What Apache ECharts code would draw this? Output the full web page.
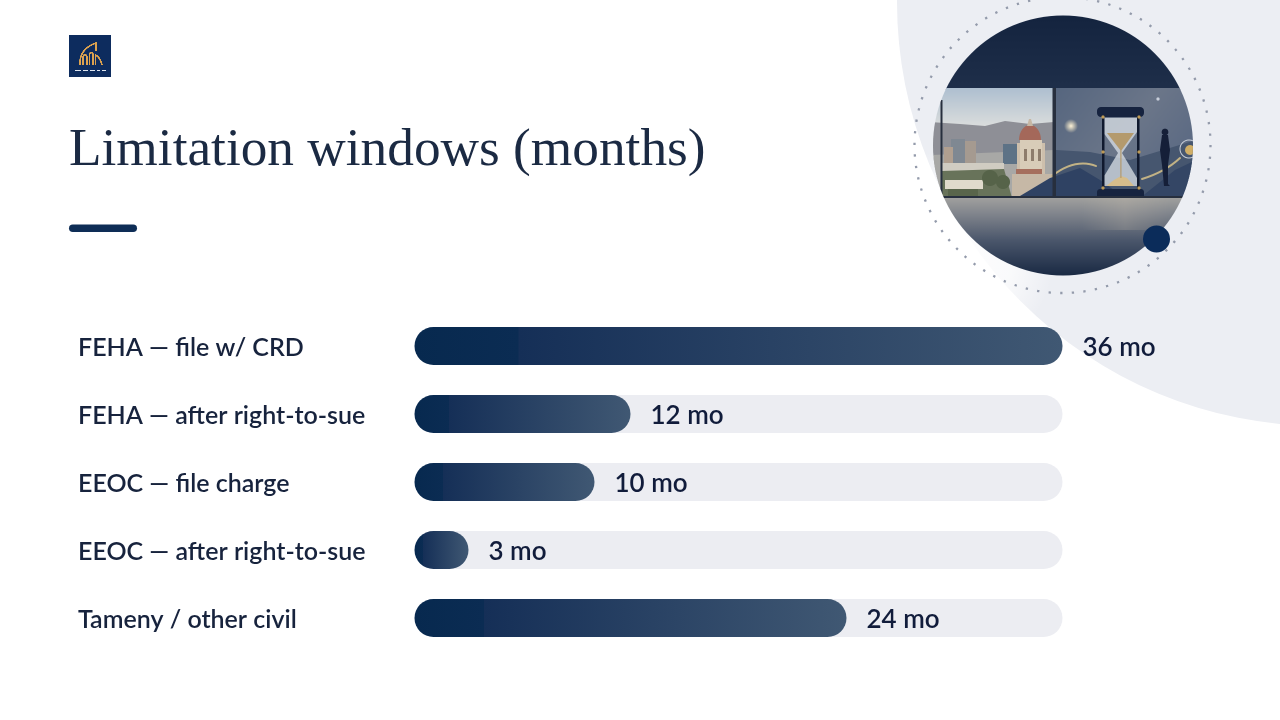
<!DOCTYPE html>
<html><head><meta charset="utf-8">
<style>html,body{margin:0;padding:0;background:#fff}#c{width:1280px;height:720px}</style>
<script src="https://cdn.jsdelivr.net/npm/echarts@6/dist/echarts.min.js"></script>
</head><body><div id="c"></div>
<script>
const titleText = 'Limitation windows (months)';
const categories = ['FEHA — file w/ CRD','FEHA — after right-to-sue','EEOC — file charge','EEOC — after right-to-sue','Tameny / other civil'];
const months = [36,12,10,3,24];
const trackMax = 36;
const unit = 'mo';

function makeCanvas(w,h,s){const c=document.createElement('canvas');c.width=w*s;c.height=h*s;const x=c.getContext('2d');x.scale(s,s);return [c,x];}
function poly(x,pts,fill){x.beginPath();pts.forEach((p,i)=>i?x.lineTo(p[0],p[1]):x.moveTo(p[0],p[1]));x.closePath();x.fillStyle=fill;x.fill();}
function vgrad(x,y0,y1,stops){const g=x.createLinearGradient(0,y0,0,y1);stops.forEach(s=>g.addColorStop(s[0],s[1]));return g;}

// decorative photo: painted in page pixels, offset to the canvas origin
function paintPhoto(){
  const [c,x]=makeCanvas(262,262,2);
  x.translate(-932,-14.5);
  x.beginPath();x.arc(1063,145.5,130,0,Math.PI*2);x.clip();
  x.filter='blur(0.7px)';
  x.fillStyle=vgrad(x,16,90,[[0,'#14243f'],[1,'#1f2f4a']]);x.fillRect(930,14,266,76);
  // left pane
  x.fillStyle=vgrad(x,88,125,[[0,'#aebfd0'],[1,'#d9dcdc']]);x.fillRect(930,88,124,110);
  poly(x,[[930,122],[960,124],[985,126],[1005,121],[1030,124],[1054,122],[1054,198],[930,198]],'#8e8f96');
  poly(x,[[930,155],[1054,150],[1054,198],[930,198]],'#a8a8a6');
  x.fillStyle='#7f8892';x.fillRect(951,139,14,24);x.fillStyle='#a59a90';x.fillRect(965,141,11,22);
  x.fillStyle='#b09f90';x.fillRect(944,147,9,17);
  x.fillStyle='#5d7286';x.fillRect(1003,144,14,20);
  x.fillStyle='#d0ccc2';x.fillRect(942,163,62,9);
  poly(x,[[942,171],[1004,169],[1012,198],[942,198]],'#68735a');
  x.fillStyle='#e0dbcc';x.fillRect(945,180,38,9);
  x.fillStyle='#59654b';x.fillRect(948,189,30,7);
  x.beginPath();x.arc(990,178,8,0,7);x.arc(1003,182,7,0,7);x.fillStyle='#566349';x.fill();
  // city hall dome
  x.fillStyle='#cdbfac';x.fillRect(1017,143,28,31);
  x.fillStyle='#d8ccb8';x.fillRect(1020,140,22,30);
  x.fillStyle='#8e7d6c';[1024,1031,1038].forEach(a=>x.fillRect(a,149,3,12));
  x.beginPath();x.ellipse(1030,140,11,15,0,Math.PI,0);x.fillStyle='#a4685a';x.fill();
  poly(x,[[1027,126],[1029,119],[1031,119],[1033,126]],'#c6b7a4');
  x.fillStyle='#a56f5e';x.fillRect(1016,169,26,5);
  x.fillStyle='#c6b8a6';x.fillRect(1012,174,42,22);
  // right pane
  const rg=x.createLinearGradient(1056,88,1190,190);rg.addColorStop(0,'#56667f');rg.addColorStop(.5,'#6b7689');rg.addColorStop(1,'#556581');
  x.fillStyle=rg;x.fillRect(1056,88,140,110);
  poly(x,[[1056,150],[1090,152],[1130,160],[1196,140],[1196,198],[1056,198]],'#46566f');
  poly(x,[[1020,196],[1050,178],[1080,168],[1100,180],[1125,198]],'#2f4263');
  poly(x,[[1140,198],[1175,170],[1196,160],[1196,198]],'#344665');
  x.lineCap='round';x.strokeStyle='#c2b285';x.lineWidth=2;
  x.beginPath();x.moveTo(1052,176);x.quadraticCurveTo(1075,158,1096,166);x.stroke();
  x.beginPath();x.moveTo(1142,179);x.quadraticCurveTo(1165,172,1180,158);x.stroke();
  const glow=x.createRadialGradient(1071,126,0,1071,126,7);glow.addColorStop(0,'#fff4d8');glow.addColorStop(1,'rgba(255,240,200,0)');
  x.fillStyle=glow;x.fillRect(1062,117,18,18);
  x.fillStyle='#c9cfdb';x.beginPath();x.arc(1158,99,1.6,0,7);x.fill();
  // hourglass
  poly(x,[[1103,118],[1137,118],[1137,132],[1122,153],[1137,178],[1137,186],[1103,186],[1103,178],[1118,153],[1103,132]],'rgba(225,230,235,.72)');
  poly(x,[[1107,133],[1134,133],[1121,151]],'#b49a6d');
  poly(x,[[1106,186],[1134,186],[1127,178],[1121,176],[1114,180]],'#d6bd8b');
  x.fillStyle='#b49a6d';x.fillRect(1120.3,150,1.2,28);
  x.fillStyle='#10192e';x.fillRect(1102,115,2.5,75);x.fillRect(1137,115,2.5,75);
  x.fillStyle='#16233f';x.beginPath();x.roundRect(1097,107,47,10,4);x.fill();
  x.beginPath();x.roundRect(1097,189,47,10,3);x.fill();
  x.fillStyle='#bd9a56';[[1103,117],[1139,117],[1103,188],[1139,188],[1103,152],[1139,152]].forEach(p=>{x.beginPath();x.arc(p[0],p[1],1.6,0,7);x.fill();});
  // silhouette
  x.fillStyle='#151f38';
  x.beginPath();x.arc(1165,132,3.4,0,7);x.fill();
  poly(x,[[1162,135],[1168,135],[1170,150],[1168,165],[1168,184],[1170,186],[1164,186],[1162,165],[1160,150]],'#151f38');
  // badge
  x.strokeStyle='#c8ced8';x.lineWidth=1;x.beginPath();x.arc(1189,149,9,0,7);x.stroke();
  x.fillStyle='#d0ae66';x.beginPath();x.arc(1190,150,5,0,7);x.fill();
  // frame
  x.fillStyle='#272f3e';x.fillRect(940.5,100,2,96);x.fillRect(1052.5,88,3.5,110);x.fillRect(930,196,266,2.2);
  // floor
  x.fillStyle=vgrad(x,198,276,[[0,'#a0a09e'],[.18,'#84888f'],[.55,'#4a566b'],[1,'#192943']]);x.fillRect(930,198,266,80);
  const refl=x.createLinearGradient(1080,0,1170,0);refl.addColorStop(0,'rgba(220,205,180,0)');refl.addColorStop(.5,'rgba(220,205,180,.2)');refl.addColorStop(1,'rgba(220,205,180,0)');
  x.fillStyle=refl;x.fillRect(1080,198,90,32);
  return c;
}
function paintLogo(){
  const [c,x]=makeCanvas(42,42,3);
  x.fillStyle='#0d2c5e';x.fillRect(0,0,42,42);
  x.strokeStyle='#dca24f';x.lineWidth=1.6;
  x.beginPath();x.moveTo(11,30);x.quadraticCurveTo(10,14,27,8);x.lineTo(27,16);x.stroke();
  x.beginPath();x.moveTo(14,30);x.lineTo(14,22);x.quadraticCurveTo(16,17,18,22);x.lineTo(18,30);x.stroke();
  x.beginPath();x.moveTo(20.5,30);x.lineTo(20.5,19);x.quadraticCurveTo(22,16,24,19);x.lineTo(24,30);x.stroke();
  x.beginPath();x.moveTo(26.5,30);x.lineTo(26.5,20);x.quadraticCurveTo(31,22,33,30);x.stroke();
  x.fillStyle='#dfe6f0';[[6,35,6],[14,35,5],[21,35,5],[28,35,3],[33,35,4]].forEach(p=>x.fillRect(p[0],p[1],p[2],1.2));
  return c;
}

const fill = new echarts.graphic.LinearGradient(0,0,1,0,[
  {offset:0,color:'#07294f'},{offset:.16,color:'#0b2c53'},{offset:.161,color:'#152f57'},{offset:1,color:'#405873'}]);

const chart = echarts.init(document.getElementById('c'),null,{renderer:'canvas',width:1280,height:720});
chart.setOption({
  animation:false,
  backgroundColor:'#fff',
  title:{text:titleText,left:69,top:125,padding:0,textStyle:{fontFamily:'"Liberation Serif"',fontSize:53.3,fontWeight:400,color:'#1b2a43'}},
  grid:{left:414.5,top:312,width:648,height:340,containLabel:false},
  xAxis:{type:'value',min:0,max:trackMax,show:false},
  yAxis:{type:'category',inverse:true,data:categories,axisLine:{show:false},axisTick:{show:false},
    axisLabel:{align:'left',verticalAlign:'top',lineHeight:4,margin:336.5,fontFamily:'Lato',fontSize:25,fontWeight:600,color:'#17233d'}},
  series:[
    {type:'bar',silent:true,barWidth:38,data:categories.map(()=>trackMax),itemStyle:{color:'#ecedf2',borderRadius:19},z:2},
    {type:'bar',barWidth:38,barGap:'-100%',data:months,z:3,itemStyle:{color:fill,borderRadius:19},
      label:{show:true,position:'right',distance:20,offset:[0,2],formatter:p=>p.value+' '+unit,fontFamily:'Lato',fontSize:26,fontWeight:600,color:'#111c3b'}}
  ],
  graphic:[
    {type:'circle',z:0,shape:{cx:1321,cy:2,r:424},style:{fill:'#eceef3'}},
    {type:'circle',z:0,shape:{cx:950,cy:255,r:105},style:{fill:new echarts.graphic.RadialGradient(.5,.5,.5,[{offset:0,color:'rgba(255,255,255,.95)'},{offset:.6,color:'rgba(255,255,255,.7)'},{offset:1,color:'rgba(255,255,255,0)'}])}},
    {type:'circle',z:0,shape:{cx:1062.5,cy:145,r:148},style:{fill:'none',stroke:'#949bab',lineWidth:2.3,lineDash:[2.3,9.32]}},
    {type:'image',z:1,style:{image:paintPhoto(),x:932,y:14.5,width:262,height:262}},
    {type:'circle',z:1,shape:{cx:1156.5,cy:239,r:13.5},style:{fill:'#0b2c5a'}},
    {type:'image',z:1,style:{image:paintLogo(),x:69,y:35,width:42,height:42}},
    {type:'rect',z:1,shape:{x:69,y:224.5,width:68,height:7.5,r:3.75},style:{fill:'#0e2d56'}}
  ]
});
</script></body></html>
